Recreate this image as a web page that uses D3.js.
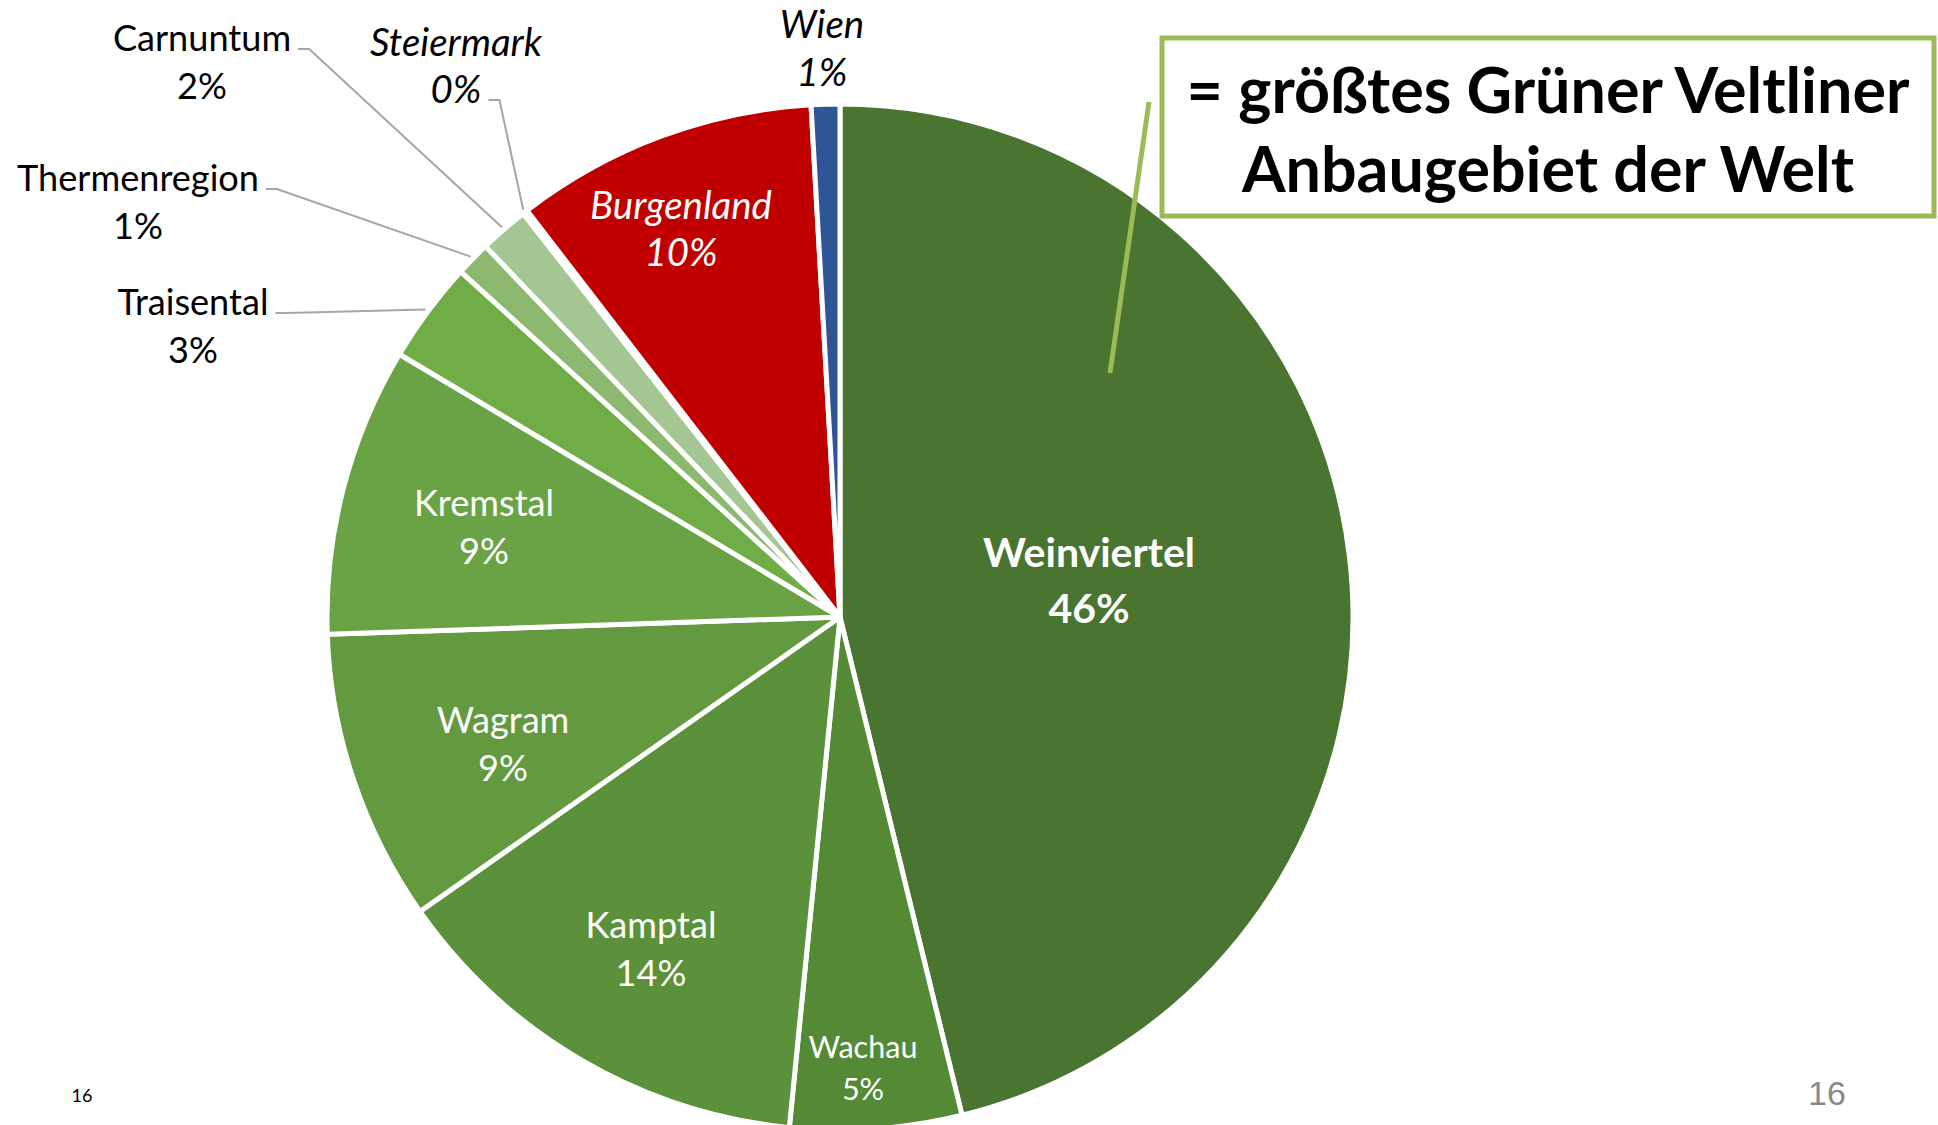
<!DOCTYPE html>
<html><head><meta charset="utf-8">
<script src="https://cdn.jsdelivr.net/npm/d3@7"></script>
<style>html,body{margin:0;padding:0;background:#fff;overflow:hidden}</style>
</head><body>
<svg id="chart" width="1938" height="1125"></svg>
<script>
// ---- data ----
const regions = ["Weinviertel","Wachau","Kamptal","Wagram","Kremstal","Traisental","Thermenregion","Carnuntum","Steiermark","Burgenland","Wien"];
const shares  = [46.2, 5.4, 13.7, 9.2, 9.1, 3.2, 1.1, 1.55, 0.15, 9.55, 0.9];
const sliceColors = ["#4a7530","#548a36","#5b913b","#639a40","#6aa346","#70ad47","#8cb96f","#a3c692","#c3c3c3","#c00000","#2f5597"];
const calloutLines = ["= größtes Grüner Veltliner","Anbaugebiet der Welt"];
const pageNumber = "16";

// ---- layout / style ----
const W = 1938, H = 1125;
const cx = 840, cy = 617, R = 513;
const FONT = "Lato, 'Open Sans', sans-serif";
const labelLayout = {
  "Weinviertel":   {x:1089, y1:551, y2:607, cls:"bold",  color:"#fff"},
  "Wachau":        {x:863,  y1:1046,y2:1088,cls:"small", color:"#fff"},
  "Kamptal":       {x:651,  y1:924, y2:972, cls:"normal",color:"#fff"},
  "Wagram":        {x:503,  y1:719, y2:767, cls:"normal",color:"#fff"},
  "Kremstal":      {x:484,  y1:502, y2:550, cls:"normal",color:"#fff"},
  "Traisental":    {x:193,  y1:301, y2:349, cls:"normal",color:"#000", leader:1},
  "Thermenregion": {x:138,  y1:177, y2:225, cls:"normal",color:"#000", leader:1},
  "Carnuntum":     {x:202,  y1:37,  y2:85,  cls:"normal",color:"#000", leader:1},
  "Steiermark":    {x:456,  y1:41,  y2:88,  cls:"italic",color:"#000", leader:2},
  "Burgenland":    {x:681,  y1:204, y2:251, cls:"italic",color:"#fff"},
  "Wien":          {x:822,  y1:23,  y2:71,  cls:"italic",color:"#000"}
};

const svg = d3.select("#chart");

function measure(text, weight, style, size, family){
  const t = svg.append("text").attr("font-family",family).attr("font-weight",weight)
    .attr("font-style",style).attr("font-size",size).text(text);
  const w = t.node().getComputedTextLength(); t.remove(); return w;
}
const sizeNormal = 100*242/measure("Thermenregion","normal","normal",100,FONT);
const sizeItalic = 100*182/measure("Burgenland","normal","italic",100,FONT);
const sizeBold   = 100*212/measure("Weinviertel","bold","normal",100,FONT);
const sizeSmall  = 100*109/measure("Wachau","normal","normal",100,FONT);
const clsStyle = {
  normal:{size:sizeNormal, weight:"normal", style:"normal"},
  italic:{size:sizeItalic, weight:"normal", style:"italic"},
  bold:  {size:sizeBold,   weight:"bold",   style:"normal"},
  small: {size:sizeSmall,  weight:"normal", style:"normal"}
};

// ---- pie ----
const data = regions.map((r,i)=>({name:r, v:shares[i], color:sliceColors[i]}));
const total = d3.sum(shares);
const pie = d3.pie().sort(null).value(d=>d.v).startAngle(0).endAngle(2*Math.PI);
const arcs = pie(data);
const arc = d3.arc().innerRadius(0).outerRadius(R);

const gPie = svg.append("g").attr("transform",`translate(${cx},${cy})`);
gPie.selectAll("path").data(arcs).join("path")
  .attr("d",arc).attr("fill",d=>d.data.color)
  .attr("stroke","#fff").attr("stroke-width",5).attr("stroke-linejoin","round");

// ---- labels ----
const gLeader = svg.append("g");
const gLab = svg.append("g");
arcs.forEach(d=>{
  const L = labelLayout[d.data.name];
  const st = clsStyle[L.cls];
  const pct = Math.round(d.data.v/total*100) + "%";
  const lines = [d.data.name, pct];
  const ys = [L.y1, L.y2];
  const nodes = lines.map((s,k)=> gLab.append("text")
      .attr("x",L.x).attr("y",ys[k]).attr("text-anchor","middle")
      .attr("dominant-baseline","central")
      .attr("font-family",FONT).attr("font-size",st.size)
      .attr("font-weight",st.weight).attr("font-style",st.style)
      .attr("fill",L.color).text(s));
  if (L.leader){
    const n = nodes[L.leader-1];
    const w = n.node().getComputedTextLength();
    const sx = L.x + w/2 + 7, sy = ys[L.leader-1] + 12;
    const a = (d.startAngle + d.endAngle)/2, rr = R + 3;
    const ax = cx + Math.sin(a)*rr, ay = cy - Math.cos(a)*rr;
    gLeader.append("polyline")
      .attr("points",`${sx},${sy} ${sx+11},${sy} ${ax},${ay}`)
      .attr("fill","none").attr("stroke","#a6a6a6").attr("stroke-width",2);
  }
});

// ---- callout ----
svg.append("line").attr("x1",1149).attr("y1",102).attr("x2",1110).attr("y2",373)
  .attr("stroke","#9bbb59").attr("stroke-width",5);
svg.append("rect").attr("x",1162).attr("y",38).attr("width",772).attr("height",178)
  .attr("fill","#fff").attr("stroke","#9bbb59").attr("stroke-width",5);
const sizeCallout = 100*723/measure(calloutLines[0],"bold","normal",100,FONT);
calloutLines.forEach((s,k)=>{
  svg.append("text").attr("x",1548).attr("y",[88,167][k]).attr("text-anchor","middle")
    .attr("dominant-baseline","central").attr("font-family",FONT).attr("font-weight","bold")
    .attr("font-size",sizeCallout).attr("fill","#000").text(s);
});

// ---- page numbers ----
svg.append("text").attr("x",82).attr("y",1095).attr("text-anchor","middle")
  .attr("dominant-baseline","central").attr("font-family",FONT).attr("font-size",18)
  .attr("fill","#000").text(pageNumber);
svg.append("text").attr("x",1827).attr("y",1093).attr("text-anchor","middle")
  .attr("dominant-baseline","central").attr("font-family","'Liberation Sans', Arial, sans-serif")
  .attr("font-size",34).attr("fill","#898989").text(pageNumber);
</script>
</body></html>
